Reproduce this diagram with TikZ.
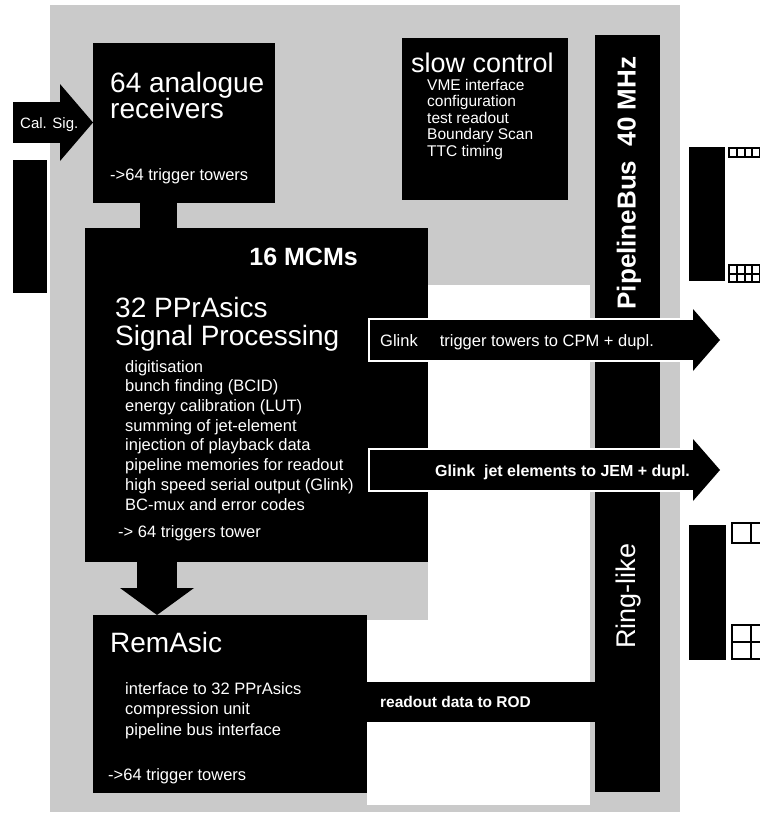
\documentclass[tikz,border=0pt]{standalone}
\usepackage{fontspec}
\setmainfont{Liberation Sans}
\usepackage{xcolor}
\definecolor{scan}{HTML}{CACACA}
\usepackage{tikz}
\usetikzlibrary{arrows.meta}
\tikzset{
    blk/.style={
        rectangle, fill=black,
        inner sep=0pt, outer sep=0pt,
        anchor=north west
    },
    ttl/.style={
        text=white, inner sep=0pt,
        anchor=base west,
        font=\fontsize{28}{30}\selectfont
    },
    txt/.style={
        text=white, inner sep=0pt,
        anchor=base west,
        font=\fontsize{16.5}{19.7}\selectfont
    },
    lst/.style={
        txt, anchor=north west, align=left
    },
    band/.style={
        draw=black, line width=40pt
    },
    fat/.style={
        band,
        -{Triangle[width=62pt, length=27pt, line width=0pt]}
    },
    halo/.style={
        draw=white, line width=44pt
    },
    pins/.style={
        draw=black, line width=2pt
    },
}

\begin{document}
\begin{tikzpicture}[x=1pt, y=-1pt]
    \useasboundingbox (0,0) rectangle (760,827);
    % scanned sheet
    \fill[scan] (50,5) rectangle (680,812);
    \fill[white] (428,285) rectangle (590,805);
    \fill[white] (367,620) rectangle (428,805);

    % blocks
    \node[blk, minimum width=182pt, minimum height=160pt] (recv) at (93,43) {};
    \node[blk, minimum width=166pt, minimum height=162pt] (slow) at (402,38) {};
    \node[blk, minimum width=343pt, minimum height=334pt] (mcm) at (85,228) {};
    \node[blk, minimum width=274pt, minimum height=178pt] (rem) at (93,615) {};
    \node[blk, minimum width=65pt, minimum height=757pt] (bus) at (595,35) {};
    \node[blk, minimum width=34pt, minimum height=133pt] (lbar) at (13,160) {};
    \node[blk, minimum width=36pt, minimum height=134pt] (chipa) at (689,147) {};
    \node[blk, minimum width=37pt, minimum height=135pt] (chipb) at (689,525) {};

    % connectors
    \coordinate (cal) at (13,122.5);
    \draw[band, line width=41pt, -{Triangle[width=77pt, length=33pt, line width=0pt]}]
        (cal) -- (cal -| recv.west);
    \coordinate (lnk) at (158.5,0);
    \draw[band, line width=37pt] (recv.south -| lnk) -- (mcm.north -| lnk);
    \coordinate (dn) at (157,0);
    \draw[fat, -{Triangle[width=74pt, length=27pt, line width=0pt]}]
        (mcm.south -| dn) -- (rem.north -| dn);

    \coordinate (g1) at (370,340);
    \coordinate (g1tip) at (720,340);
    \draw[halo, shorten <=-2pt, shorten >=25pt] (g1) -- (g1tip);
    \draw[fat] (g1) -- (g1tip);
    \coordinate (g2) at (370,470);
    \coordinate (g2tip) at (720,470);
    \draw[halo, shorten <=-2pt, shorten >=25pt] (g2) -- (g2tip);
    \draw[fat] (g2) -- (g2tip);

    \coordinate (ro) at (0,702);
    \draw[band, shorten <=-1pt, shorten >=-1pt] (rem.east |- ro) -- (bus.west |- ro);

    % pins of the boards
    \draw[pins, shift={(729,148)}] (0,9) grid[xstep=7.75pt, ystep=9pt] (31,0) (0,0) rectangle (31,9);
    \draw[pins, shift={(729,265)}] (0,17) grid[xstep=7.75pt, ystep=8.5pt] (31,0) (0,0) rectangle (31,17);
    \draw[pins, shift={(732,523)}] (0,20) grid[xstep=19pt, ystep=20pt] (38,0) (0,0) rectangle (38,20);
    \draw[pins, shift={(732,625)}] (0,34) grid[xstep=19pt, ystep=17pt] (38,0) (0,0) rectangle (38,34);

    % texts
    \node[txt, font=\fontsize{15}{16}\selectfont] (calT) at (20,128) {Cal. Sig.};
    \node[ttl] (recvA) at (110,92) {64 analogue};
    \node[ttl] (recvB) at (110,118) {receivers};
    \node[txt] (recvC) at (110,180) {->64 trigger towers};

    \node[ttl, font=\fontsize{27}{30}\selectfont] (slowT) at (411,72) {slow control};
    \node[lst, font=\fontsize{15.5}{16.5}\selectfont] (slowL) at (427,79)
        {VME interface\\configuration\\test readout\\Boundary Scan\\TTC timing};

    \node[ttl, anchor=base east, font=\bfseries\fontsize{25}{28}\selectfont] (mcmN) at (358,265) {16 MCMs};
    \node[ttl] (mcmA) at (115,317) {32 PPrAsics};
    \node[ttl] (mcmB) at (115,345) {Signal Processing};
    \node[lst] (mcmL) at (125,360)
        {digitisation\\bunch finding (BCID)\\energy calibration (LUT)\\summing of jet-element\\injection of playback data\\pipeline memories for readout\\high speed serial output (Glink)\\BC-mux and error codes};
    \node[txt] (mcmC) at (118,537) {-> 64 triggers tower};

    \node[ttl] (remT) at (110,652) {RemAsic};
    \node[lst, font=\fontsize{16.5}{20.5}\selectfont] (remL) at (125,682)
        {interface to 32 PPrAsics\\compression unit\\pipeline bus interface};
    \node[txt] (remC) at (108,780) {->64 trigger towers};

    \node[txt] (g1T) at (380,346) {Glink\hspace{22pt}trigger towers to CPM + dupl.};
    \node[txt, font=\bfseries\fontsize{16}{19}\selectfont] (g2T) at (435,476) {Glink\ \ jet elements to JEM + dupl.};
    \node[txt, font=\bfseries\fontsize{15.5}{18}\selectfont] (roT) at (380,707) {readout data to ROD};

    \node[txt, anchor=center, rotate=90, font=\bfseries\fontsize{26}{28}\selectfont] (busA) at (629,183) {PipelineBus\ \ 40 MHz};
    \node[txt, anchor=center, rotate=90, font=\fontsize{27}{30}\selectfont] (busB) at (629,596) {Ring-like};
\end{tikzpicture}
\end{document}
